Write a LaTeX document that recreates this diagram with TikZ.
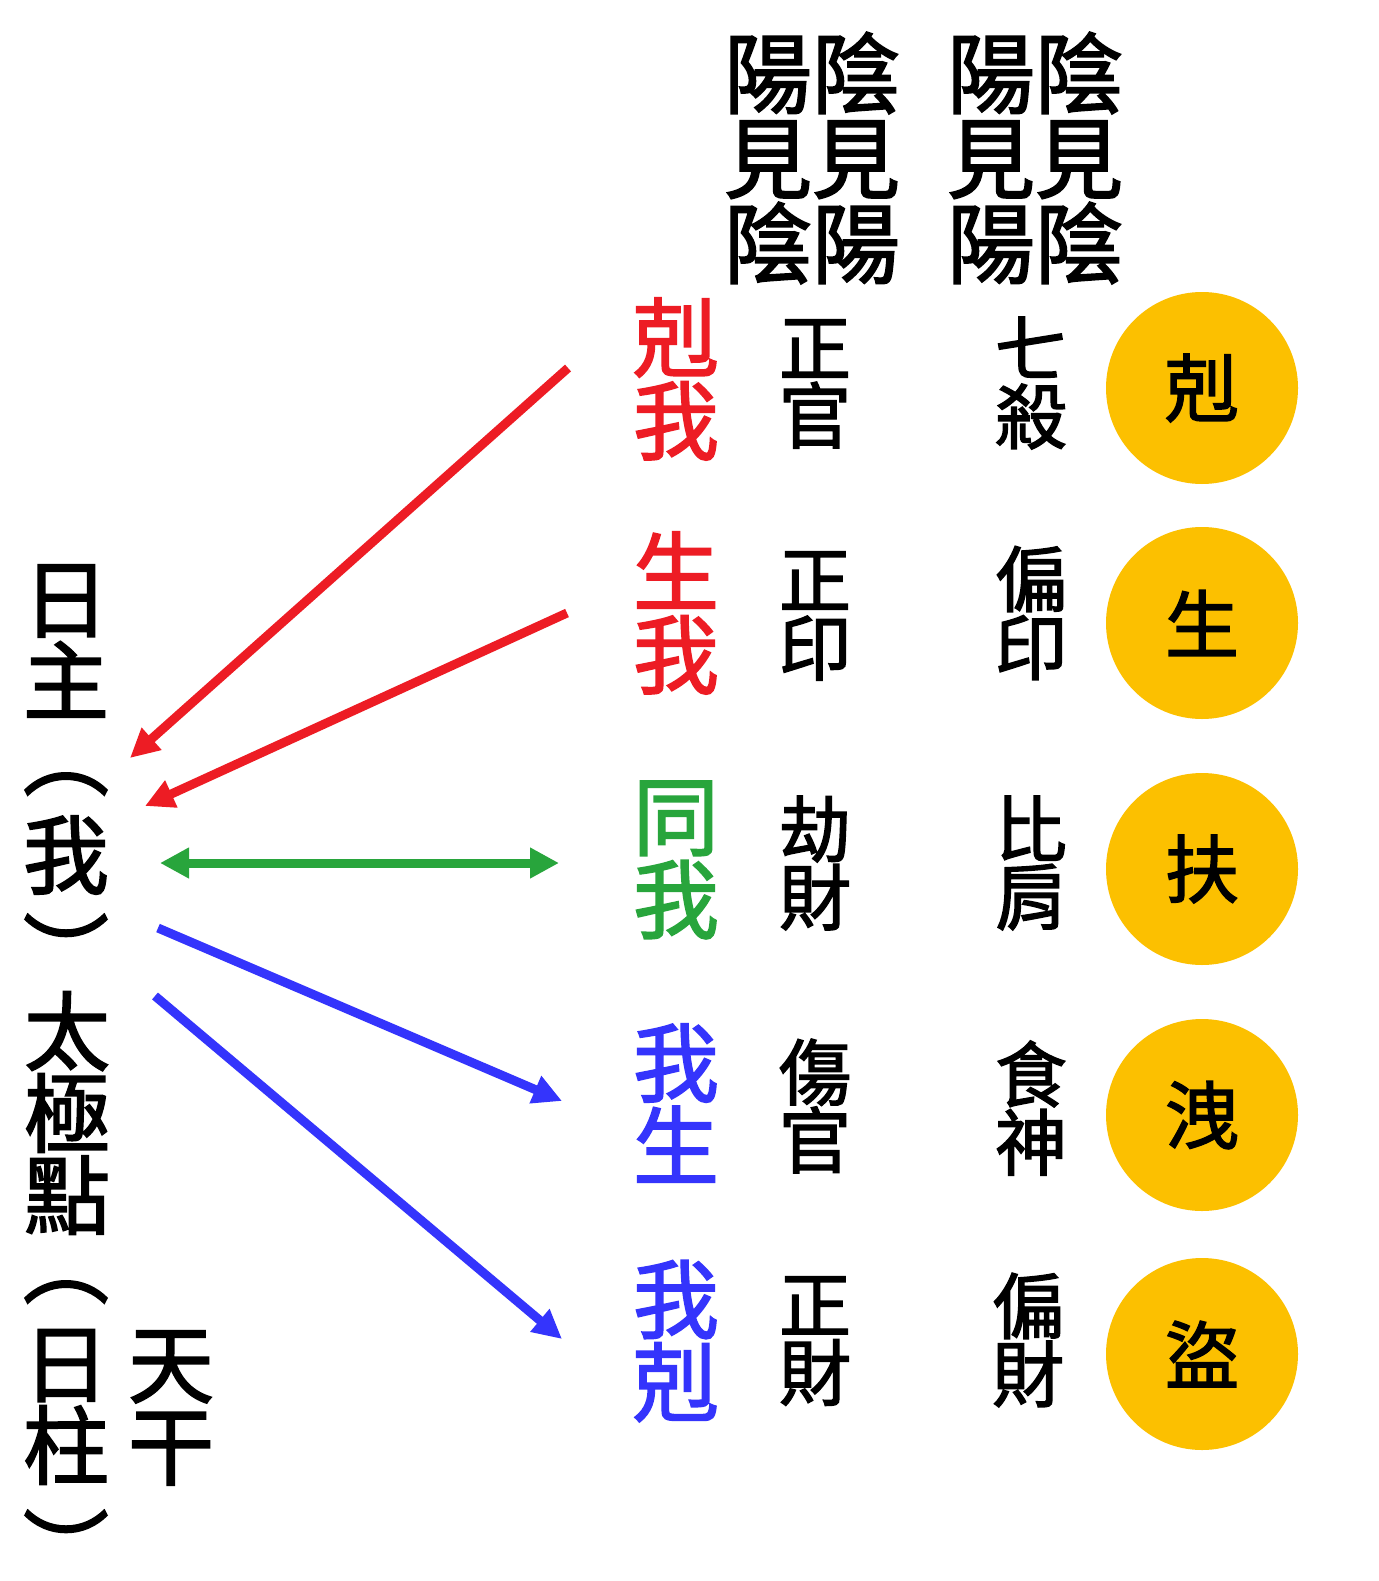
\documentclass[tikz,border=0pt]{standalone}
\usepackage{fontspec}
\setmainfont{Noto Sans CJK TC}[FakeBold=2]
\usetikzlibrary{arrows.meta}
\definecolor{kred}{RGB}{237,28,36}
\definecolor{kgreen}{RGB}{40,165,60}
\definecolor{kblue}{RGB}{52,52,252}
\definecolor{kyellow}{RGB}{252,192,0}
\begin{document}
\begin{tikzpicture}[x=1pt,y=-1pt,
  big/.style={font=\fontsize{86}{83}\selectfont, inner sep=0pt, align=center},
  lft/.style={font=\fontsize{86}{82}\selectfont, inner sep=0pt, align=center},
  mid/.style={font=\fontsize{72}{68}\selectfont, inner sep=0pt, align=center},
  hdr/.style={font=\fontsize{88}{85}\selectfont, inner sep=0pt, align=center},
  circ/.style={circle, fill=kyellow, minimum size=192pt, inner sep=0pt, font=\fontsize{74}{74}\selectfont},
  arr/.style={line width=9pt, -{Triangle[length=29pt,width=28pt]}},
  darr/.style={line width=9pt, {Triangle[length=29pt,width=29pt]}-{Triangle[length=29pt,width=29pt]}},
]
\fill[white] (0,0) rectangle (1378,1581);
\useasboundingbox (0,0) rectangle (1378,1581);
% header
\node[hdr] (h1) at (812,158) {陽陰\\見見\\陰陽};
\node[hdr] (h2) at (1035,158) {陽陰\\見見\\陽陰};
% rows
\node[big, text=kred] (r1a) at (676,379) {剋\\我};
\node[mid] (r1b) at (815,384) {正\\官};
\node[mid] (r1c) at (1031,383) {七\\殺};
\node[circ] (r1d) at (1202,388) {剋};
\node[big, text=kred] (r2a) at (676,613) {生\\我};
\node[mid] (r2b) at (815,616) {正\\印};
\node[mid] (r2c) at (1031,613) {偏\\印};
\node[circ] (r2d) at (1202,623) {生};
\node[big, text=kgreen] (r3a) at (676,860) {同\\我};
\node[mid] (r3b) at (815,863) {劫\\財};
\node[mid] (r3c) at (1031,863) {比\\肩};
\node[circ] (r3d) at (1202,869) {扶};
\node[big, text=kblue] (r4a) at (676,1103) {我\\生};
\node[mid] (r4b) at (815,1106) {傷\\官};
\node[mid] (r4c) at (1031,1108) {食\\神};
\node[circ] (r4d) at (1202,1115) {洩};
\node[big, text=kblue] (r5a) at (676,1341) {我\\剋};
\node[mid] (r5b) at (815,1341) {正\\財};
\node[mid] (r5c) at (1028,1340) {偏\\財};
\node[circ] (r5d) at (1202,1354) {盜};
% left column
\node[lft] (l1) at (66,641) {日\\主};
\node[lft] (l2) at (66,784) {︵};
\node[lft] (l3) at (66,855) {我};
\node[lft] (l4) at (66,950) {︶};
\node[lft] (l5) at (67,1113) {太\\極\\點};
\node[lft] (l6) at (66,1292) {︵};
\node[lft] (l7) at (66,1407) {日\\柱};
\node[lft] (l8) at (66,1546) {︶};
\node[lft] (l9) at (171,1408) {天\\干};
% arrow end points
\coordinate (a1s) at (568,368); \coordinate (a1e) at (130,758);
\coordinate (a2s) at (567,613); \coordinate (a2e) at (145,806);
\coordinate (a3s) at (160,863); \coordinate (a3e) at (559,863);
\coordinate (a4s) at (158,928); \coordinate (a4e) at (562,1101);
\coordinate (a5s) at (155,996); \coordinate (a5e) at (562,1339);
\draw[arr, kred] (a1s) -- (a1e);
\draw[arr, kred] (a2s) -- (a2e);
\draw[darr, kgreen] (a3s) -- (a3e);
\draw[arr, kblue] (a4s) -- (a4e);
\draw[arr, kblue] (a5s) -- (a5e);
\end{tikzpicture}
\end{document}
